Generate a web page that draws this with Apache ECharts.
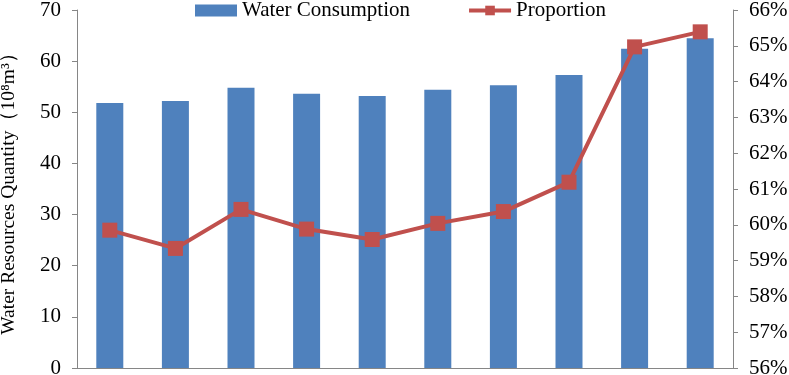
<!DOCTYPE html>
<html>
<head>
<meta charset="utf-8">
<script src="https://cdn.jsdelivr.net/npm/echarts@6/dist/echarts.min.js"></script>
<style>
  html, body { margin: 0; padding: 0; background: #fff; }
  #main { width: 789px; height: 375px; }
</style>
</head>
<body>
<div id="main"></div>
<script>
var categories = ['1', '2', '3', '4', '5', '6', '7', '8', '9', '10']
var waterConsumption = [51.8, 52.2, 54.8, 53.6, 53.2, 54.4, 55.3, 57.3, 62.4, 64.5]
var proportion = [59.85, 59.34, 60.43, 59.88, 59.59, 60.04, 60.37, 61.19, 64.97, 65.39]
var leftTicks = { min: 0, max: 70, interval: 10 }
var rightTicks = { min: 56, max: 66, interval: 1 }

var font = '"Liberation Serif", "Times New Roman", serif'
var axisGray = '#868686'

var chart = echarts.init(document.getElementById('main'))
chart.setOption({
  animation: false,
  textStyle: { fontFamily: font },
  legend: {
    top: 0,
    left: 195,
    padding: 0,
    itemGap: 57,
    itemWidth: 42,
    itemHeight: 12,
    textStyle: { fontFamily: font, fontSize: 21, color: '#000' },
    data: [
      { name: 'Water Consumption', icon: 'rect' },
      { name: 'Proportion', lineStyle: { width: 4 } }
    ]
  },
  grid: { left: 77, right: 56, top: 10, bottom: 7, containLabel: false, outerBoundsMode: 'none' },
  xAxis: {
    type: 'category',
    data: categories,
    axisLine: { lineStyle: { color: axisGray, width: 1 } },
    axisTick: { show: false },
    axisLabel: { show: false }
  },
  yAxis: [
    {
      type: 'value',
      min: leftTicks.min,
      max: leftTicks.max,
      interval: leftTicks.interval,
      name: 'Water Resources Quantity（10⁸m³）',
      nameLocation: 'middle',
      nameGap: 58,
      nameTextStyle: { fontFamily: font, fontSize: 19.5, color: '#000' },
      axisLine: { show: true, lineStyle: { color: axisGray } },
      axisTick: { show: true, length: 5, lineStyle: { color: axisGray } },
      axisLabel: { fontFamily: font, fontSize: 21, color: '#000', margin: 16 },
      splitLine: { show: false }
    },
    {
      type: 'value',
      position: 'right',
      min: rightTicks.min,
      max: rightTicks.max,
      interval: rightTicks.interval,
      axisLine: { show: true, lineStyle: { color: axisGray } },
      axisTick: { show: true, length: 5, lineStyle: { color: axisGray } },
      axisLabel: { fontFamily: font, fontSize: 21, color: '#000', margin: 16, formatter: '{value}%' },
      splitLine: { show: false }
    }
  ],
  series: [
    {
      name: 'Water Consumption',
      type: 'bar',
      barWidth: 27,
      itemStyle: { color: '#4F81BD' },
      data: waterConsumption
    },
    {
      name: 'Proportion',
      type: 'line',
      yAxisIndex: 1,
      symbol: 'rect',
      symbolSize: 15,
      lineStyle: { color: '#C0504D', width: 4 },
      itemStyle: { color: '#C0504D' },
      data: proportion
    }
  ]
})
</script>
</body>
</html>
